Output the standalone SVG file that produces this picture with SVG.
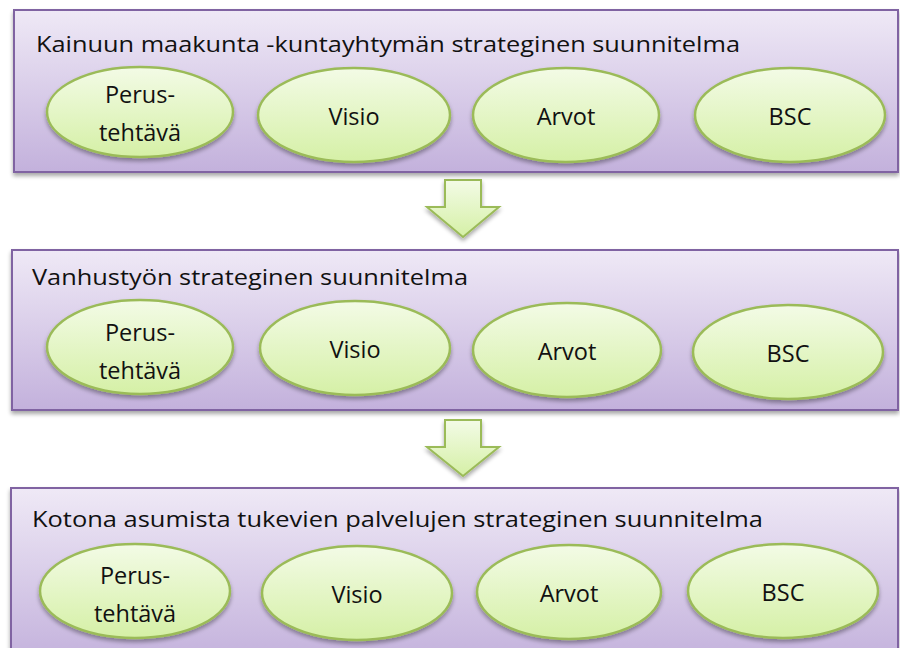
<svg xmlns="http://www.w3.org/2000/svg" width="900" height="648" viewBox="0 0 900 648">
<defs>
<linearGradient id="gBox" x1="0" y1="0" x2="0" y2="1">
<stop offset="0" stop-color="#efe9f6"/>
<stop offset="1" stop-color="#c3b1dc"/>
</linearGradient>
<linearGradient id="gEl" x1="0" y1="0" x2="0" y2="1">
<stop offset="0" stop-color="#f3fbe6"/>
<stop offset="1" stop-color="#d5f0a6"/>
</linearGradient>
<filter id="sh" x="-10%" y="-10%" width="120%" height="130%">
<feGaussianBlur in="SourceAlpha" stdDeviation="2"/>
<feOffset dx="0" dy="3"/>
<feComponentTransfer><feFuncA type="linear" slope="0.35"/></feComponentTransfer>
<feMerge><feMergeNode/><feMergeNode in="SourceGraphic"/></feMerge>
</filter>
</defs>
<style>
.box{fill:url(#gBox);stroke:#8064a2;stroke-width:2}
.el{fill:url(#gEl);stroke:#9bbb59;stroke-width:2.5}
.arr{fill:url(#gEl);stroke:#9bbb59;stroke-width:2}
text{font-family:"Open Sans","Noto Sans",sans-serif;fill:#111}
.t{font-size:22px}
.e{font-size:23.5px;text-anchor:middle}
</style>
<g id="connectors">
<path class="arr" filter="url(#sh)" d="M445,180 H481 V207 H499 L463,237 L427,207 H445 Z"/>
<path class="arr" filter="url(#sh)" d="M445,420 H481 V447 H499 L463,476 L427,447 H445 Z"/>
</g>
<g id="box1">
<rect class="box" filter="url(#sh)" x="14" y="10" width="884" height="162"/>
<text class="t" x="36" y="52" textLength="704" lengthAdjust="spacingAndGlyphs">Kainuun maakunta -kuntayhtymän strateginen suunnitelma</text>
</g>
<g id="b1-perus"><ellipse class="el" filter="url(#sh)" cx="140" cy="112" rx="93" ry="45"/><text class="e" x="140" y="103">Perus-</text><text class="e" x="140" y="141">tehtävä</text></g>
<g id="b1-visio"><ellipse class="el" filter="url(#sh)" cx="354" cy="115" rx="96" ry="47"/><text class="e" x="354" y="125">Visio</text></g>
<g id="b1-arvot"><ellipse class="el" filter="url(#sh)" cx="566" cy="115" rx="93" ry="47"/><text class="e" x="566" y="125">Arvot</text></g>
<g id="b1-bsc"><ellipse class="el" filter="url(#sh)" cx="790" cy="115" rx="95" ry="47"/><text class="e" x="790" y="125">BSC</text></g>

<g id="box2">
<rect class="box" filter="url(#sh)" x="12" y="250" width="886" height="160"/>
<text class="t" x="32" y="285" textLength="436" lengthAdjust="spacingAndGlyphs">Vanhustyön strateginen suunnitelma</text>
</g>
<g id="b2-perus"><ellipse class="el" filter="url(#sh)" cx="140" cy="347" rx="93" ry="47"/><text class="e" x="140" y="341">Perus-</text><text class="e" x="140" y="379">tehtävä</text></g>
<g id="b2-visio"><ellipse class="el" filter="url(#sh)" cx="355" cy="348" rx="95" ry="47"/><text class="e" x="355" y="358">Visio</text></g>
<g id="b2-arvot"><ellipse class="el" filter="url(#sh)" cx="567" cy="350" rx="94" ry="47"/><text class="e" x="567" y="360">Arvot</text></g>
<g id="b2-bsc"><ellipse class="el" filter="url(#sh)" cx="788" cy="352" rx="95" ry="47"/><text class="e" x="788" y="362">BSC</text></g>

<g id="box3">
<rect class="box" filter="url(#sh)" x="11" y="488" width="887" height="175"/>
<text class="t" x="32" y="527" textLength="731" lengthAdjust="spacingAndGlyphs">Kotona asumista tukevien palvelujen strateginen suunnitelma</text>
</g>
<g id="b3-perus"><ellipse class="el" filter="url(#sh)" cx="135" cy="591" rx="95" ry="47"/><text class="e" x="135" y="584">Perus-</text><text class="e" x="135" y="622">tehtävä</text></g>
<g id="b3-visio"><ellipse class="el" filter="url(#sh)" cx="357" cy="593" rx="95" ry="47"/><text class="e" x="357" y="603">Visio</text></g>
<g id="b3-arvot"><ellipse class="el" filter="url(#sh)" cx="569" cy="592" rx="92" ry="47"/><text class="e" x="569" y="602">Arvot</text></g>
<g id="b3-bsc"><ellipse class="el" filter="url(#sh)" cx="783" cy="591" rx="95" ry="47"/><text class="e" x="783" y="601">BSC</text></g>
</svg>
